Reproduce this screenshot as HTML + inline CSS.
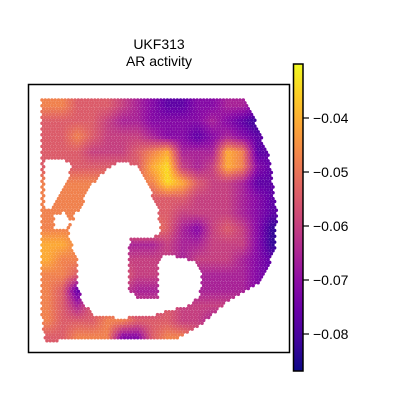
<!DOCTYPE html>
<html><head><meta charset="utf-8"><style>
html,body{margin:0;padding:0;background:#fff;}
svg{display:block;font-family:"Liberation Sans","DejaVu Sans",sans-serif;}
</style></head><body>
<svg id="chart" width="400" height="400" viewBox="0 0 400 400">
<defs>
<linearGradient id="plasma" x1="0" y1="1" x2="0" y2="0">
<stop offset="0" stop-color="#0d0887"/><stop offset="0.1" stop-color="#41049d"/>
<stop offset="0.2" stop-color="#6a00a8"/><stop offset="0.3" stop-color="#8f0da4"/>
<stop offset="0.4" stop-color="#b12a90"/><stop offset="0.5" stop-color="#cc4778"/>
<stop offset="0.6" stop-color="#e16462"/><stop offset="0.7" stop-color="#f2844b"/>
<stop offset="0.8" stop-color="#fca636"/><stop offset="0.9" stop-color="#fcce25"/>
<stop offset="1" stop-color="#f0f921"/>
</linearGradient>
</defs>
<text x="159" y="49" text-anchor="middle" font-size="14">UKF313</text>
<text x="159" y="66" text-anchor="middle" font-size="14">AR activity</text>
<g id="spots"></g>
<rect x="28.5" y="84.5" width="261" height="268" fill="none" stroke="#000" stroke-width="1.5"/>
<rect x="293.5" y="64" width="9.5" height="307" fill="url(#plasma)" stroke="#000" stroke-width="1.5"/>
<g id="cbticks"></g>
</svg>
<script>
const tickValues=[-0.04,-0.05,-0.06,-0.07,-0.08];
const tickLabels=["\u22120.04","\u22120.05","\u22120.06","\u22120.07","\u22120.08"];
const valueRows=[
"7766654322334433","6666544333343211","6676555433234322","6665556784448722",
"6666666895458732","7777777798655422","7777777666555432","7777777665555432",
"7777777764356531","8877744454455531","8777755554555432","7766665555444432",
"7625554444444432","7646665565555555","7666776665544444","6677733677666666"];
const outline=[[42,99],[245,99],[252,112],[270,160],[277,215],[275,250],[262,282],[232,298],[205,322],[180,338],[45,341],[40,300]];
const holes=[
[[118,162],[135,165],[148,185],[158,210],[160,235],[150,238],[130,237],[128,258],[78,258],[72,245],[68,232],[75,215],[82,205],[88,190],[98,178],[108,168]],
[[78,258],[128,258],[128,290],[140,300],[158,298],[158,265],[165,255],[182,258],[195,262],[202,275],[200,295],[190,305],[170,310],[150,316],[120,318],[95,316],[85,305],[78,290]],
[[45,160],[60,158],[72,165],[68,180],[62,190],[55,200],[50,210],[45,208]],
[[55,215],[65,212],[72,222],[65,230],[55,228]]];
const cbY=v=>118+(-0.04-v)/0.01*54;
const plasma=["#0d0887","#41049d","#6a00a8","#8f0da4","#b12a90","#cc4778","#e16462","#f2844b","#fca636","#fcce25","#f0f921"];
function hex(c){return [parseInt(c.slice(1,3),16),parseInt(c.slice(3,5),16),parseInt(c.slice(5,7),16)];}
function cmap(t){t=Math.max(0,Math.min(1,t))*10;const i=Math.min(9,Math.floor(t)),f=t-i;const a=hex(plasma[i]),b=hex(plasma[i+1]);
return "rgb("+a.map((v,k)=>Math.round(v+(b[k]-v)*f)).join(",")+")";}
function inPoly(x,y,P){let c=false;for(let i=0,j=P.length-1;i<P.length;j=i++){const [xi,yi]=P[i],[xj,yj]=P[j];
if(((yi>y)!=(yj>y))&&(x<(xj-xi)*(y-yi)/(yj-yi)+xi))c=!c;}return c;}
const X0=40,Y0=98,CW=15,CH=15.4;
function val(x,y){let fc=(x-X0)/CW-0.5,fr=(y-Y0)/CH-0.5;fc=Math.max(0,Math.min(14.999,fc));fr=Math.max(0,Math.min(14.999,fr));
const c=Math.floor(fc),r=Math.floor(fr),dx=fc-c,dy=fr-r;const g=(rr,cc)=>+valueRows[rr][cc];
return g(r,c)*(1-dx)*(1-dy)+g(r,c+1)*dx*(1-dy)+g(r+1,c)*(1-dx)*dy+g(r+1,c+1)*dx*dy;}
const ns="http://www.w3.org/2000/svg";const G=document.getElementById("spots");
let row=0;
for(let y=100;y<=341;y+=2.9,row++){
 for(let x=42+(row%2?1.65:0);x<=278;x+=3.3){
  if(!inPoly(x,y,outline))continue;
  if(holes.some(h=>inPoly(x,y,h)))continue;
  const d=val(x,y);
  const el=document.createElementNS(ns,"circle");
  el.setAttribute("cx",x.toFixed(2));el.setAttribute("cy",y.toFixed(2));el.setAttribute("r","1.75");
  el.setAttribute("fill",cmap(-0.03+d*0.1+0.02*Math.max(0,d-6)));
  
  
  G.appendChild(el);
 }
}
const T=document.getElementById("cbticks");
tickValues.forEach((v,i)=>{const y=cbY(v);
 const l=document.createElementNS(ns,"line");l.setAttribute("x1",303);l.setAttribute("x2",309);l.setAttribute("y1",y);l.setAttribute("y2",y);l.setAttribute("stroke","#000");l.setAttribute("stroke-width","1.2");
 
 
 T.appendChild(l);
 const t=document.createElementNS(ns,"text");t.setAttribute("x",313);t.setAttribute("y",y+5);t.setAttribute("font-size","14");t.textContent=tickLabels[i];
 
 
 T.appendChild(t);
});
</script>
</body></html>
